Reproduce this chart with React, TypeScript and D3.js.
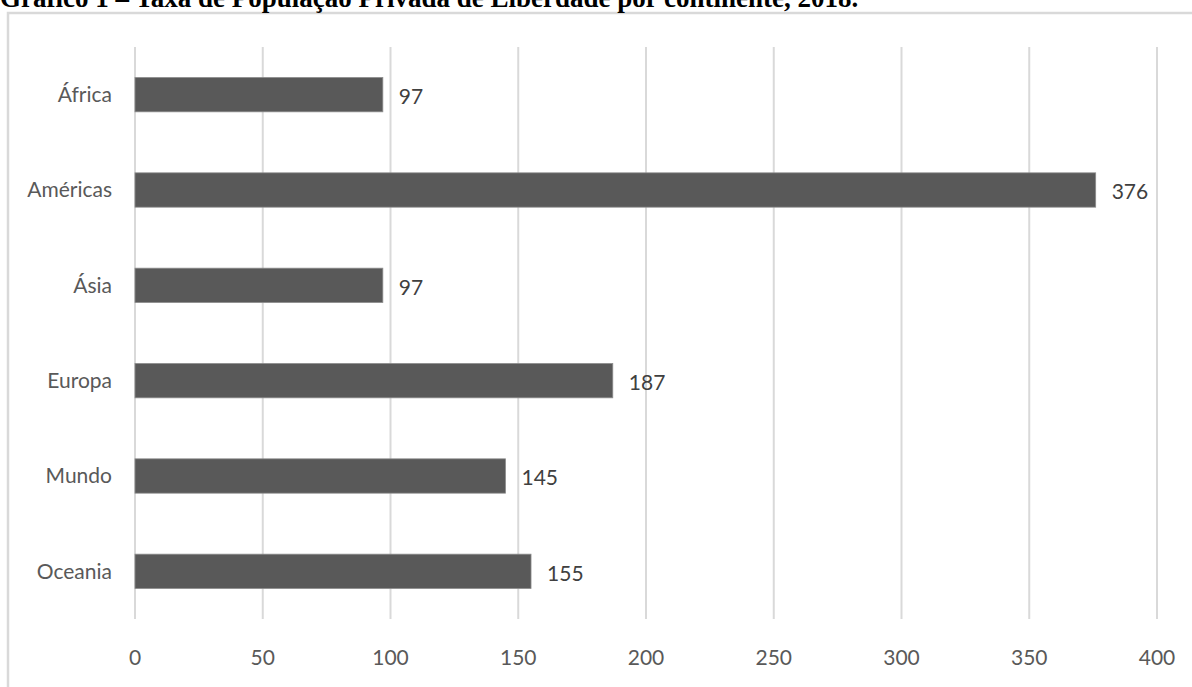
import React, { useEffect, useRef } from "react";
import * as d3 from "d3";

const categories = ["África", "Américas", "Ásia", "Europa", "Mundo", "Oceania"];
const values = [97, 376, 97, 187, 145, 155];
const ticks = [0, 50, 100, 150, 200, 250, 300, 350, 400];
const title = "Gráfico 1 – Taxa de População Privada de Liberdade por continente, 2018.";

const W = 1192;
const H = 687;
const FONT = "Lato, 'Open Sans', sans-serif";

export default function App() {
  const ref = useRef<SVGSVGElement>(null);

  useEffect(() => {
    const svg = d3.select(ref.current);
    svg.selectAll("*").remove();

    const x = d3.scaleLinear().domain([0, 400]).range([135, 1157]);
    const y = d3.scaleBand<string>().domain(categories).range([47, 619]).paddingInner(0.64).paddingOuter(0.32);

    // chart frame
    svg.append("rect")
      .attr("x", 8).attr("y", 13)
      .attr("width", W + 20).attr("height", H + 20)
      .attr("fill", "#fff").attr("stroke", "#d9d9d9").attr("stroke-width", 2.5);

    // title, running off the top of the page
    svg.append("text")
      .attr("x", 0).attr("y", 7)
      .attr("font-family", "'Liberation Serif', 'Times New Roman', serif")
      .attr("font-weight", "bold").attr("font-size", 27)
      .attr("fill", "#000")
      .text(title);

    // vertical gridlines
    svg.append("g").selectAll("line").data(ticks).join("line")
      .attr("x1", d => x(d)).attr("x2", d => x(d))
      .attr("y1", 47).attr("y2", 619)
      .attr("stroke", "#d9d9d9").attr("stroke-width", 2);

    // tick labels
    svg.append("g").selectAll("text").data(ticks).join("text")
      .attr("x", d => x(d)).attr("y", 665)
      .attr("text-anchor", "middle")
      .attr("font-family", FONT).attr("font-size", 21).attr("fill", "#595959")
      .text(d => String(d));

    // bars
    svg.append("g").selectAll("rect").data(values).join("rect")
      .attr("x", x(0))
      .attr("y", (_, i) => y(categories[i])!)
      .attr("width", d => x(d) - x(0))
      .attr("height", y.bandwidth())
      .attr("fill", "#595959").attr("stroke", "#8c8c8c").attr("stroke-width", 0.8);

    // category labels
    svg.append("g").selectAll("text").data(categories).join("text")
      .attr("x", 112)
      .attr("y", d => y(d)! + y.bandwidth() / 2)
      .attr("dy", "0.35em")
      .attr("text-anchor", "end")
      .attr("font-family", FONT).attr("font-size", 21).attr("fill", "#595959")
      .text(d => d);

    // value labels
    svg.append("g").selectAll("text").data(values).join("text")
      .attr("x", d => x(d) + 16)
      .attr("y", (_, i) => y(categories[i])! + y.bandwidth() / 2 + 2)
      .attr("dy", "0.35em")
      .attr("font-family", FONT).attr("font-size", 21).attr("fill", "#404040")
      .text(d => String(d));
  }, []);

  return (
    <svg
      ref={ref}
      width={W}
      height={H}
      style={{ position: "absolute", left: 0, top: 0, background: "#fff" }}
    />
  );
}
